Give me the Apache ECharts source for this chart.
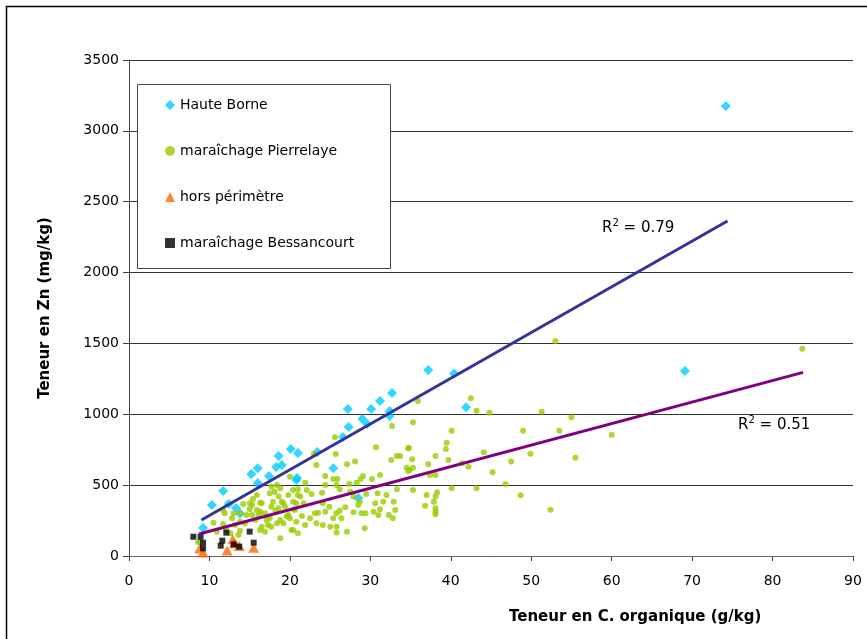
<!DOCTYPE html>
<html>
<head>
<meta charset="utf-8">
<script src="https://cdn.jsdelivr.net/npm/echarts@6/dist/echarts.min.js"></script>
<style>
  html, body { margin: 0; padding: 0; background: #fff; }
  #chart { width: 867px; height: 639px; }
</style>
</head>
<body>
<div id="chart"></div>
<script>
// Teneur en C. organique (g/kg) vs Teneur en Zn (mg/kg)
var hauteBorne = [
  [9.2,198],[10.3,360],[11.7,459],[12.4,367],[13.3,339],[13.8,300],[15.2,579],[16.0,620],[16.0,515],
  [17.4,565],[18.3,628],[19.0,642],[18.6,706],[20.1,755],[20.8,536],[21.0,727],[20.9,550],[23.4,734],
  [25.4,620],[26.6,840],[27.3,910],[27.2,1037],[29.0,967],[29.6,932],[30.1,1037],[31.2,1094],[32.4,1023],
  [32.4,988],[32.7,1150],[37.2,1312],[40.4,1287],[41.9,1050],[28.5,409],[69.1,1305],[74.2,3175]
];

var pierrelaye = [
  [53.0,1517],[83.7,1463],[44.8,1011],[51.3,1018],[55.0,979],[49.0,884],[53.5,884],[60.0,856],[44.1,732],
  [49.9,722],[55.5,694],[47.5,666],[45.2,591],[46.8,506],[48.7,428],[52.4,326],
  [35.9,1094],[42.5,1113],[43.2,1025],[35.3,943],[40.1,884],[39.5,800],[39.4,755],[34.8,762],[33.7,706],
  [38.1,706],[35.2,682],[39.7,677],[41.4,654],[42.2,630],[37.2,647],[34.5,623],[34.9,607],[35.3,623],
  [37.4,572],[38.1,572],[35.3,466],[40.1,478],[43.2,478],[37.0,430],[38.3,450],[38.1,419],[37.9,383],
  [36.8,355],[38.1,337],[38.1,313],[38.1,294],
  [32.7,917],[30.7,767],[34.7,760],[25.6,838],[28.1,666],[27.1,647],[25.7,720],[24.4,565],[23.3,642],
  [23.0,720],[32.6,677],[33.3,706],[34.7,600],[30.2,543],[31.2,572],[29.1,565],[28.8,543],[25.4,543],
  [25.9,543],[27.4,508],[28.3,517],[25.8,501],[24.4,501],[21.9,517],[21.0,471],[22.1,466],[22.7,438],
  [24.0,447],[26.2,471],[27.5,454],[27.9,419],[28.7,383],[29.5,438],[30.9,442],[32.0,430],[31.6,383],
  [30.6,372],[31.2,330],[32.9,383],[33.1,325],[33.3,471],[32.8,266],[30.4,313],[29.3,195],[28.9,301],
  [27.9,308],[26.9,344],[25.8,301],[26.2,320],[24.9,348],[24.1,372],[24.4,313],[23.5,306],[23.3,231],
  [24.1,219],[25.0,207],[25.8,207],[25.8,165],[27.1,172],[25.4,266],[26.4,266],[22.5,266],[23.1,301],
  [21.7,372],[21.3,419],[20.4,383],[21.0,160],[20.4,183],[20.5,330],[21.5,282],[21.9,219],[28.5,360],
  [29.4,301],[31.0,289],[32.3,289],[20.0,266],
  [10.5,235],[11.7,226],[11.9,301],[13.0,301],[13.8,301],[12.8,266],[13.2,219],[13.8,179],[13.6,148],
  [12.6,160],[14.2,367],[15.0,372],[15.0,330],[15.3,289],[16.3,376],[16.3,313],[15.7,254],[16.5,207],
  [17.3,219],[17.5,266],[16.9,301],[17.7,348],[17.5,442],[17.7,489],[18.4,501],[18.6,419],[18.6,337],
  [18.2,320],[18.8,254],[18.8,125],[19.2,231],[19.6,278],[19.4,348],[19.0,383],[19.8,430],[20.0,560],
  [21.0,430],[20.8,242],[20.2,183],[15.9,430],[14.6,289],[14.4,231],[12.1,183],[8.8,101],[16.9,172],
  [8.6,97],[15.3,360],[15.4,402],[16.5,372],[17.9,383],[18.1,454],[18.8,478],[19.2,372],[20.4,466],
  [20.8,372],[20.6,325],[19.8,289],[18.4,231],[17.7,207],[17.1,254],[15.9,325],[16.1,289],[13.8,242],
  [16.3,183],[10.9,172],[11.7,325]
];

var horsPerimetre = [
  [8.8,55],[9.2,25],[12.2,38],[12.9,118],[13.7,70],[15.5,58],[13.1,90]
];

var bessancourt = [
  [8.0,136],[8.9,136],[9.2,94],[9.2,54],[12.1,165],[11.6,108],[11.4,73],[13.0,82],[13.7,66],[15.0,172],[15.5,94]
];

// regression lines (end points)
var trendHauteBorne = [[9.0,254],[74.4,2364]];
var trendPierrelaye = [[8.7,155],[83.8,1296]];

var xTicks = [0, 90, 10];
var yTicks = [0, 3500, 500];

var chart = echarts.init(document.getElementById('chart'));
var font = 'DejaVu Sans';

chart.setOption({
  animation: false,
  backgroundColor: '#fff',
  grid: { left: 129, top: 60, right: 14, bottom: 83 },
  xAxis: {
    type: 'value',
    min: xTicks[0], max: xTicks[1], interval: xTicks[2],
    axisLine: { lineStyle: { color: '#666', width: 1 } },
    axisTick: { show: true, length: 5, lineStyle: { color: '#444' } },
    axisLabel: { color: '#000', fontFamily: font, fontSize: 14, margin: 18 },
    splitLine: { show: false }
  },
  yAxis: {
    type: 'value',
    min: yTicks[0], max: yTicks[1], interval: yTicks[2],
    name: 'Teneur en Zn (mg/kg)',
    nameLocation: 'middle',
    nameGap: 76,
    nameTextStyle: { color: '#000', fontFamily: font, fontWeight: 'bold', fontSize: 15 },
    axisLine: { show: true, lineStyle: { color: '#444', width: 1 } },
    axisTick: { show: true, length: 6, lineStyle: { color: '#444' } },
    axisLabel: { color: '#000', fontFamily: font, fontSize: 14, margin: 10,
      formatter: function (v) { return String(v); } },
    splitLine: { show: true, lineStyle: { color: '#333', width: 1 } }
  },
  legend: {
    orient: 'vertical',
    left: 137, top: 84,
    padding: [14, 10, 18, 28],
    itemWidth: 10, itemHeight: 10,
    itemGap: 32,
    textStyle: { color: '#000', fontFamily: font, fontSize: 14 },
    data: [
      { name: 'Haute Borne', icon: 'diamond' },
      { name: 'maraîchage Pierrelaye', icon: 'circle' },
      { name: 'hors périmètre', icon: 'triangle' },
      { name: 'maraîchage Bessancourt', icon: 'rect' }
    ],
    z: 5
  },
  graphic: [
    { type: 'rect', shape: { x: 6.5, y: 6.5, width: 900, height: 700 },
      style: { fill: 'none', stroke: '#000', lineWidth: 1.5 }, z: 10, silent: true },
    { type: 'rect', shape: { x: 137.5, y: 84.5, width: 253, height: 184 },
      style: { fill: '#fff', stroke: '#444', lineWidth: 1 }, z: 3, silent: true },
    { type: 'text', x: 509, y: 610, z: 10,
      style: { text: 'Teneur en C. organique (g/kg)', font: 'bold 15px "DejaVu Sans"', fill: '#000' } },
    { type: 'text', x: 602, y: 218, z: 10,
      style: {
        text: '{a|R}{s|2}{a| = 0.79}',
        rich: {
          a: { fontFamily: font, fontSize: 15, fill: '#000', verticalAlign: 'bottom', lineHeight: 18 },
          s: { fontFamily: font, fontSize: 10, fill: '#000', verticalAlign: 'top', lineHeight: 18 }
        }
      } },
    { type: 'text', x: 738, y: 415, z: 10,
      style: {
        text: '{a|R}{s|2}{a| = 0.51}',
        rich: {
          a: { fontFamily: font, fontSize: 15, fill: '#000', verticalAlign: 'bottom', lineHeight: 18 },
          s: { fontFamily: font, fontSize: 10, fill: '#000', verticalAlign: 'top', lineHeight: 18 }
        }
      } }
  ],
  series: [
    {
      name: 'Haute Borne', type: 'scatter', symbol: 'diamond', symbolSize: 10,
      itemStyle: { color: '#00CCFF' }, data: hauteBorne
    },
    {
      name: 'maraîchage Pierrelaye', type: 'scatter', symbol: 'circle', symbolSize: 6,
      itemStyle: { color: '#99CC00' }, data: pierrelaye
    },
    {
      name: 'hors périmètre', type: 'scatter', symbol: 'triangle', symbolSize: [11, 10],
      itemStyle: { color: '#FF6600' }, data: horsPerimetre
    },
    {
      name: 'maraîchage Bessancourt', type: 'scatter', symbol: 'rect', symbolSize: 6,
      itemStyle: { color: '#000' }, data: bessancourt
    },
    {
      name: 'trend HB', type: 'line', symbol: 'none', data: trendHauteBorne,
      lineStyle: { color: '#333399', width: 3 }, z: 3
    },
    {
      name: 'trend Pierrelaye', type: 'line', symbol: 'none', data: trendPierrelaye,
      lineStyle: { color: '#800080', width: 3 }, z: 3
    }
  ]
});
</script>
</body>
</html>
